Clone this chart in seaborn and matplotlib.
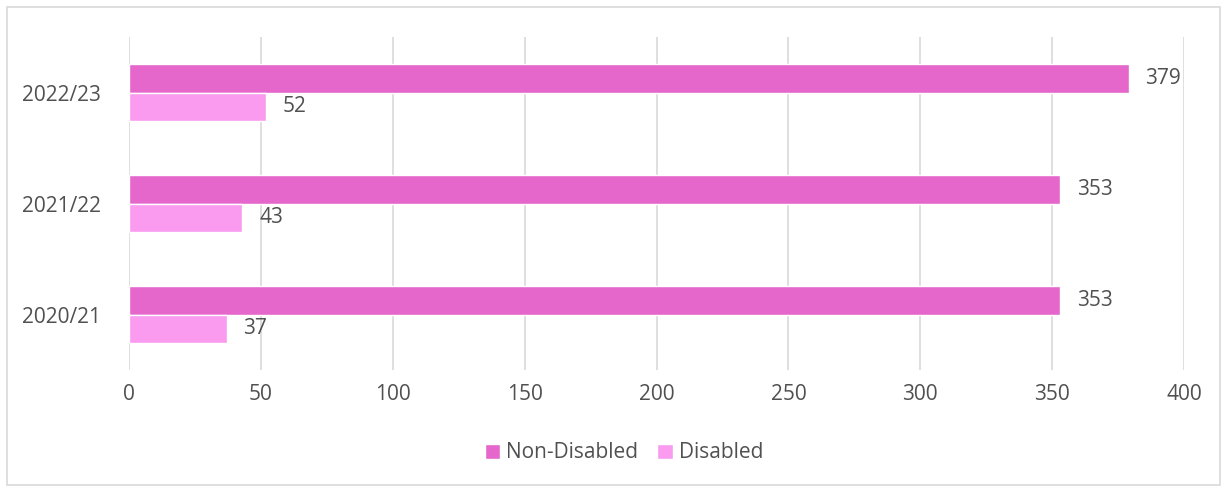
import matplotlib
matplotlib.use("Agg")
import matplotlib.pyplot as plt
import seaborn as sns
import pandas as pd
from matplotlib.patches import Rectangle

years = ["2022/23", "2021/22", "2020/21"]
groups = ["Non-Disabled", "Disabled"]
non_disabled = [379, 353, 353]
disabled = [52, 43, 37]
colors = ["#E667CC", "#FA9BEF"]

df = pd.DataFrame({
    "year": years * 2,
    "group": [groups[0]] * len(years) + [groups[1]] * len(years),
    "value": non_disabled + disabled,
})

sns.set_style("white")
plt.rcParams["font.family"] = ["Open Sans", "DejaVu Sans"]
text_color = "#505050"
fs = 15

fig = plt.figure(figsize=(12.27, 4.88), dpi=100)
ax = fig.add_axes([0.1051, 0.2418, 0.8599, 0.6822])

sns.barplot(
    data=df, x="value", y="year", hue="group", order=years, hue_order=groups,
    palette=colors, orient="h", width=0.52, gap=0, saturation=1,
    ax=ax, legend=True,
)

for cont in ax.containers:
    ax.bar_label(cont, padding=12, fontsize=fs, color=text_color)

ax.set_xlim(0, 400)
ax.set_xticks(range(0, 401, 50))
ax.set_xlabel("")
ax.set_ylabel("")
ax.grid(axis="x", color="#D9D9D9", linewidth=1.2)
ax.grid(axis="y", visible=False)
ax.set_axisbelow(True)
for s in ax.spines.values():
    s.set_visible(False)
ax.tick_params(axis="x", length=0, pad=10, labelsize=fs, labelcolor=text_color)
ax.tick_params(axis="y", length=0, pad=20, labelsize=fs, labelcolor=text_color)

handles, labels = ax.get_legend_handles_labels()
ax.get_legend().remove()
fig.legend(
    handles, labels, loc="center", bbox_to_anchor=(624 / 1227, 35 / 488),
    ncol=2, frameon=False, fontsize=fs, labelcolor=text_color,
    handlelength=0.75, handleheight=0.75, handletextpad=0.3, columnspacing=0.9,
)

fig.patches.append(Rectangle((7 / 1227, 3 / 488), 1213 / 1227, 478 / 488,
                             transform=fig.transFigure, fill=False,
                             edgecolor="#D9D9D9", linewidth=1.2))

fig.savefig("out.png", dpi=100)
